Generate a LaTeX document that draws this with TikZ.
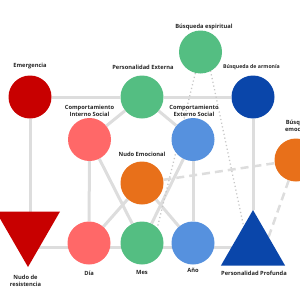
\documentclass[tikz,border=0pt]{standalone}
\usepackage{fontspec}
\setmainfont{Open Sans}
\usetikzlibrary{positioning,calc}
\usetikzlibrary{shapes.geometric,backgrounds}
\definecolor{NodeRed}{RGB}{200,0,0}
\definecolor{NodeGreen}{RGB}{84,190,130}
\definecolor{NodeNavy}{RGB}{10,70,170}
\definecolor{NodeSalmon}{RGB}{255,104,104}
\definecolor{NodeSky}{RGB}{86,145,222}
\definecolor{NodeOrange}{RGB}{232,112,26}
\definecolor{LinkGray}{RGB}{221,221,221}
\tikzset{
	ball/.style={circle,minimum size=43pt,inner sep=0pt},
	tri/.style={regular polygon,regular polygon sides=3,minimum size=74pt,inner sep=0pt},
	lab/.style={font=\fontsize{5.75}{7.3}\selectfont\bfseries,align=center,inner sep=0pt,text=black!85},
	link/.style={draw=LinkGray,line width=3pt},
	weak/.style={draw=LinkGray,line width=2.5pt,dash pattern=on 8pt off 5pt},
	faint/.style={draw=black!22,line width=1.3pt,dash pattern=on 1.2pt off 2.6pt},
}

\begin{document}
\begin{tikzpicture}[x=1pt,y=-1pt]
			\useasboundingbox (0,0) rectangle (300,300);
			% upper row
			\node[ball,fill=NodeRed] (emerg) at (30,97) {};
			\node[ball,fill=NodeGreen] (pext) at (142,97) {};
			\node[ball,fill=NodeGreen] (esp) at (200.5,52) {};
			\node[ball,fill=NodeNavy] (arm) at (253,97) {};
			% middle row
			\node[ball,fill=NodeSalmon] (cis) at (89.5,139.5) {};
			\node[ball,fill=NodeSky] (ces) at (193,139.5) {};
			\node[ball,fill=NodeOrange] (nemo) at (142,183) {};
			\node[ball,fill=NodeOrange] (bemo) at (296,160) {};
			% lower row
			\node[tri,fill=NodeRed,shape border rotate=180] (nres) at (28,230) {};
			\node[ball,fill=NodeSalmon] (dia) at (89,243) {};
			\node[ball,fill=NodeGreen] (mes) at (142,243) {};
			\node[ball,fill=NodeSky] (anio) at (193,243) {};
			\node[tri,fill=NodeNavy] (pprof) at (253,247) {};
			% labels
			\node[lab] (emergL) at (30,66.5) {Emergencia};
			\node[lab] (pextL) at (143,67.5) {Personalidad Externa};
			\node[lab] (espL) at (204,26.5) {Búsqueda espiritual};
			\node[lab,font=\fontsize{5.2}{6}\selectfont\bfseries] (armL) at (251.5,67.5) {Búsqueda de armonía};
			\node[lab] (cisL) at (89.5,110.5) {Comportamiento\\Interno Social};
			\node[lab] (cesL) at (194,110.5) {Comportamiento\\Externo Social};
			\node[lab] (nemoL) at (142,154) {Nudo Emocional};
			\node[lab] (bemoL) at (300,126) {Búsqueda\\emocional};
			\node[lab] (nresL) at (25.5,280.5) {Nudo de\\resistencia};
			\node[lab] (diaL) at (89,273) {Día};
			\node[lab] (mesL) at (142,272) {Mes};
			\node[lab] (anioL) at (193,270) {Año};
			\node[lab] (pprofL) at (254,273) {Personalidad Profunda};
			% links behind the nodes
			\begin{scope}[on background layer]
				\draw[link] (emerg) -- (pext) -- (arm);
				\draw[link] (emerg) -- (emerg |- nres.center);
				\draw[link] (nres.center |- pprof.center) -- (pprof.center);
				\draw[link] (arm) -- (pprof);
				\draw[link] (pext) -- (cis);
				\draw[link] (pext) -- (ces);
				\draw[link] (cis) -- (dia);
				\draw[link] (cis) -- (mes);
				\draw[link] (ces) -- (mes);
				\draw[link] (ces) -- (anio);
				\draw[link] (nemo) -- (dia);
				\draw[link] (nemo) -- (anio);
				\draw[weak] (nemo) -- (bemo);
				\draw[weak] (bemo) -- ([xshift=12pt]pprof.center);
				\draw[faint] (esp) -- (mes.north east);
				\draw[faint] ([xshift=6pt]esp.center) -- ([xshift=-5pt]pprof.center);
			\end{scope}
		\end{tikzpicture}
\end{document}
